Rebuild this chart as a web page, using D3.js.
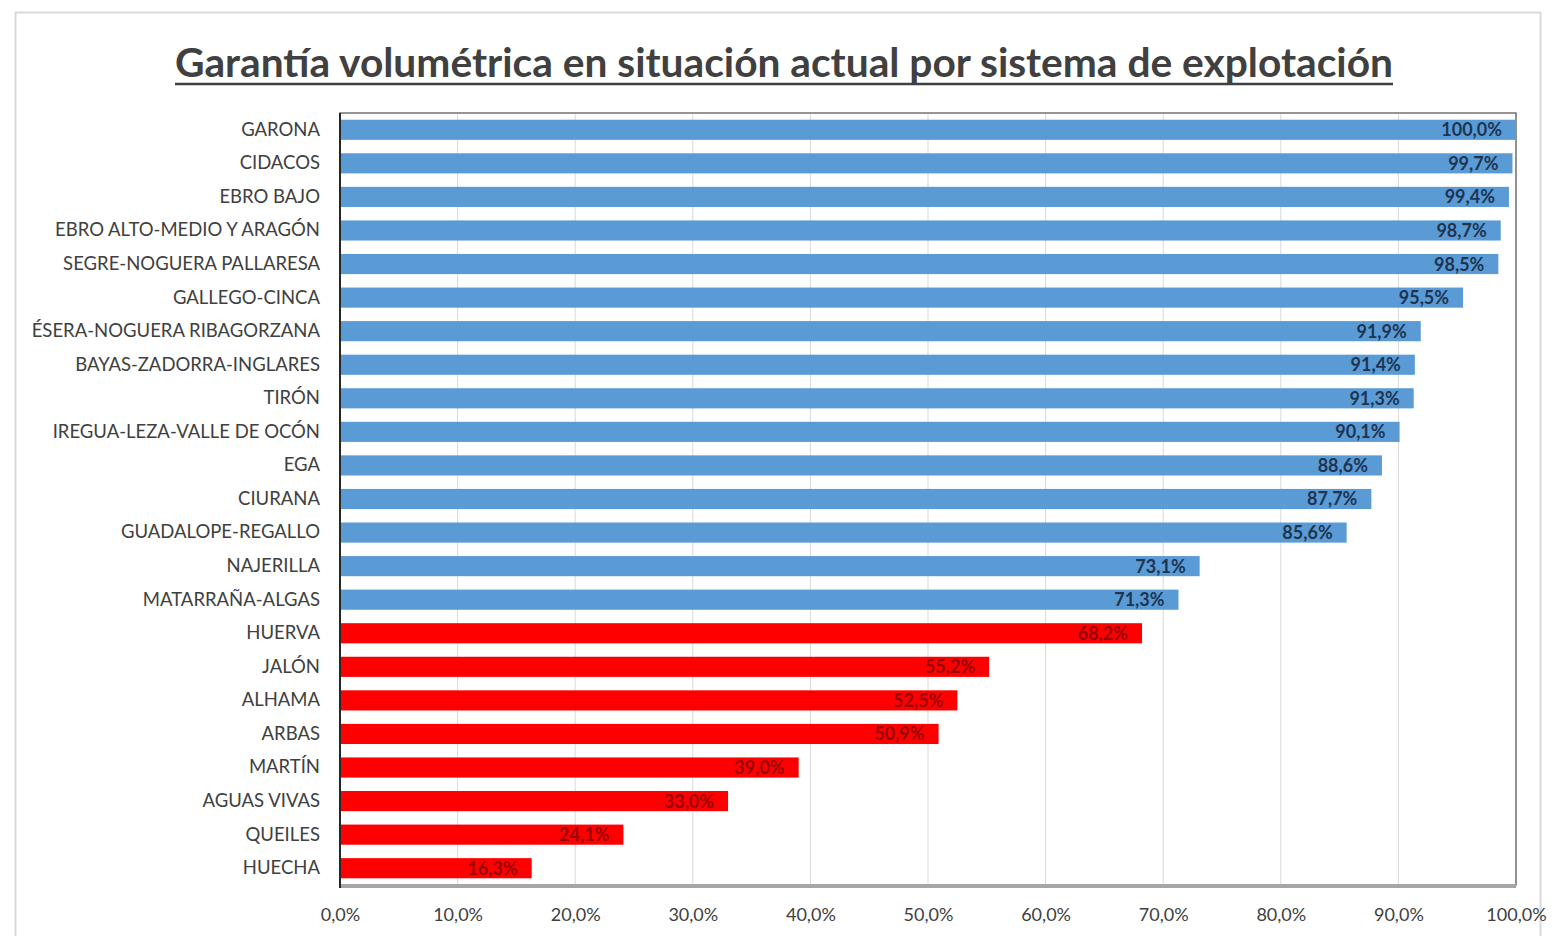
<!DOCTYPE html>
<html><head><meta charset="utf-8">
<script src="https://cdn.jsdelivr.net/npm/d3@7"></script>
<style>body{margin:0;background:#fff;}svg{display:block;}</style>
</head><body>
<svg id="c" width="1559" height="936"></svg>
<script>
const categories = ["GARONA","CIDACOS","EBRO BAJO","EBRO ALTO-MEDIO Y ARAGÓN","SEGRE-NOGUERA PALLARESA","GALLEGO-CINCA","ÉSERA-NOGUERA RIBAGORZANA","BAYAS-ZADORRA-INGLARES","TIRÓN","IREGUA-LEZA-VALLE DE OCÓN","EGA","CIURANA","GUADALOPE-REGALLO","NAJERILLA","MATARRAÑA-ALGAS","HUERVA","JALÓN","ALHAMA","ARBAS","MARTÍN","AGUAS VIVAS","QUEILES","HUECHA"];
const values = [100.0,99.7,99.4,98.7,98.5,95.5,91.9,91.4,91.3,90.1,88.6,87.7,85.6,73.1,71.3,68.2,55.2,52.5,50.9,39.0,33.0,24.1,16.3];
const groups = ["ok","ok","ok","ok","ok","ok","ok","ok","ok","ok","ok","ok","ok","ok","ok","low","low","low","low","low","low","low","low"];
const tickValues = [0,10,20,30,40,50,60,70,80,90,100];
const title = "Garantía volumétrica en situación actual por sistema de explotación";

const svg = d3.select("#c");
const fmt = v => v.toFixed(1).replace(".", ",") + "%";
const L = 340, R = 1516, T = 113, B = 885;

svg.append("rect").attr("x",15.5).attr("y",12.5).attr("width",1525).attr("height",940)
  .attr("fill","none").attr("stroke","#d9d9d9").attr("stroke-width",2);

svg.append("text").attr("x",784).attr("y",77).attr("text-anchor","middle")
  .attr("font-family","Lato, 'Open Sans', sans-serif").attr("font-weight","bold")
  .attr("font-size",40).attr("fill","#404040")
  .attr("textLength",1218).attr("lengthAdjust","spacingAndGlyphs").text(title);
svg.append("line").attr("x1",175).attr("x2",1393).attr("y1",84).attr("y2",84)
  .attr("stroke","#404040").attr("stroke-width",2.5);

const x = d3.scaleLinear().domain([0,100]).range([L,R]);
const y = d3.scaleBand().domain(categories).range([T,B]).paddingInner(0.4).paddingOuter(0.2);

// grid
svg.append("g").selectAll("line").data(tickValues.slice(1)).join("line")
  .attr("x1",d=>x(d)).attr("x2",d=>x(d)).attr("y1",T).attr("y2",B)
  .attr("stroke","#d9d9d9").attr("stroke-width",1);

// frame
svg.append("rect").attr("x",L).attr("y",T).attr("width",R-L).attr("height",B-T)
  .attr("fill","none").attr("stroke","#737373").attr("stroke-width",1.5);
svg.append("line").attr("x1",L).attr("x2",R).attr("y1",B+1).attr("y2",B+1).attr("stroke","#a6a6a6").attr("stroke-width",4);

const data = categories.map((c,i)=>({c, v:values[i], g:groups[i]}));
svg.append("g").selectAll("rect").data(data).join("rect")
  .attr("x",x(0)).attr("y",d=>y(d.c)).attr("width",d=>x(d.v)-x(0)).attr("height",y.bandwidth())
  .attr("fill",d=>d.g==="ok"?"#5b9bd5":"#ff0000");

svg.append("line").attr("x1",L).attr("x2",L).attr("y1",T).attr("y2",B+3).attr("stroke","#262626").attr("stroke-width",2);

// value labels
svg.append("g").selectAll("text").data(data).join("text")
  .attr("x",d=>x(d.v)-14).attr("y",d=>y(d.c)+y.bandwidth()/2).attr("dy","0.36em")
  .attr("text-anchor","end").attr("font-family","Lato, sans-serif").attr("font-weight","bold")
  .attr("font-size",18).attr("fill",d=>d.g==="ok"?"#1c3552":"#990000").text(d=>fmt(d.v));

// category axis
const ya = svg.append("g").attr("transform",`translate(${L-20},0)`)
  .call(d3.axisLeft(y).tickSize(0).tickPadding(0));
ya.select(".domain").remove();
ya.selectAll("text").attr("font-family","Lato, sans-serif").attr("font-size",18.5).attr("fill","#404040");

// x axis
const xa = svg.append("g").attr("transform",`translate(0,${B+30})`)
  .call(d3.axisBottom(x).tickValues(tickValues).tickSize(0).tickPadding(0).tickFormat(d=>fmt(d)));
xa.select(".domain").remove();
xa.selectAll("text").attr("font-family","Lato, sans-serif").attr("font-size",18).attr("fill","#404040").attr("dy","0.35em");
</script>
</body></html>
